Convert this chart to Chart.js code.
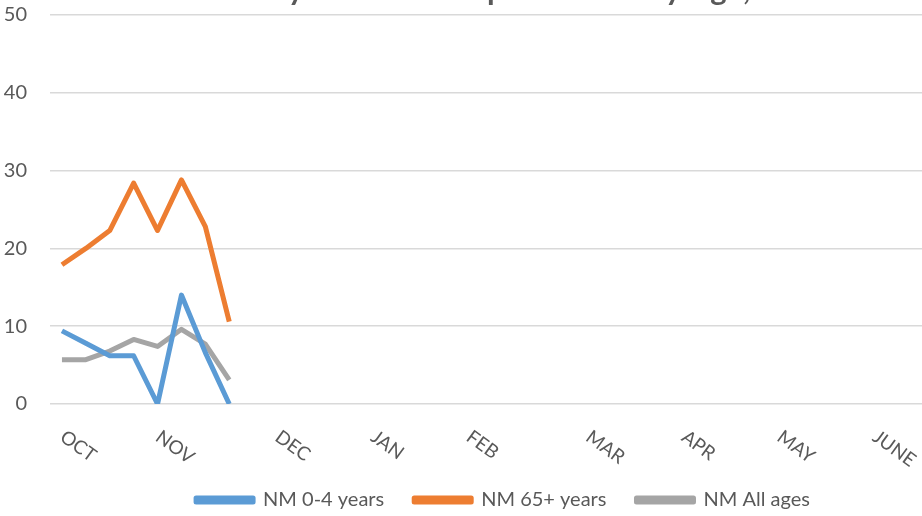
<!DOCTYPE html>
<html>
<head>
<meta charset="utf-8">
<script src="https://cdn.jsdelivr.net/npm/chart.js@4"></script>
<style>
  html, body { margin: 0; padding: 0; background: #fff; overflow: hidden; }
  #wrap { width: 922px; height: 516px; overflow: hidden; }
</style>
</head>
<body>
<div id="wrap"><canvas id="myChart" width="1006" height="516"></canvas></div>
<script>
// month names shown under the axis and the week they start on
var months = ["OCT", "NOV", "DEC", "JAN", "FEB", "MAR", "APR", "MAY", "JUNE"];
var monthWeek = [0, 4, 9, 13, 17, 22, 26, 30, 34];
var weekCount = 40;

var yTicks = [0, 10, 20, 30, 40, 50];

// weekly rates
var nm04 = [9.4, 7.8, 6.2, 6.2, 0, 14.0, 6.6, 0];
var nm65 = [17.9, 20.0, 22.3, 28.4, 22.3, 28.8, 22.8, 10.6];
var nmAll = [5.7, 5.7, 6.8, 8.3, 7.4, 9.6, 7.7, 3.1];

var titleText = "Weekly Rates of Hospitalization by Age,";

var weekLabels = [];
for (var i = 0; i < weekCount; i++) weekLabels.push("");
months.forEach(function (m, k) { weekLabels[monthWeek[k]] = m; });

var ctx = document.getElementById("myChart");

// Excel style labels: slanted down to the right, starting at the week
var monthLabels = {
  id: "monthLabels",
  afterLayout: function (chart) {
    chart.legend.top += 4;
    chart.legend.bottom += 4;
  },
  afterDraw: function (chart) {
    var x = chart.scales.x;
    var c = chart.ctx;
    c.save();
    c.fillStyle = "#595959";
    c.font = "19px Lato";
    c.textAlign = "left";
    c.textBaseline = "top";
    months.forEach(function (m, k) {
      var px = x.getPixelForValue(monthWeek[k]);
      c.save();
      c.translate(px + 6, 427);
      c.rotate(36 * Math.PI / 180);
      c.fillText(m, 0, 0);
      c.restore();
    });
    // title, mostly cut off by the top of the picture
    c.font = "bold 31px Lato";
    c.textAlign = "center";
    c.textBaseline = "alphabetic";
    c.fillText(titleText, 475, 0);
    c.restore();
  }
};

var myChart = new Chart(ctx, {
  type: "line",
  data: {
    labels: weekLabels,
    datasets: [
      {
        label: "NM 0-4 years",
        data: nm04,
        borderColor: "#5B9BD5",
        backgroundColor: "#5B9BD5",
      },
      {
        label: "NM 65+ years",
        data: nm65,
        borderColor: "#ED7D31",
        backgroundColor: "#ED7D31",
      },
      {
        label: "NM All ages",
        data: nmAll,
        borderColor: "#A5A5A5",
        backgroundColor: "#A5A5A5",
      },
    ],
  },
  options: {
    responsive: false,
    animation: false,
    devicePixelRatio: 1,
    elements: {
      line: { borderWidth: 5, tension: 0, borderJoinStyle: "round", borderCapStyle: "butt" },
      point: { radius: 0, hoverRadius: 0 },
    },
    layout: { padding: { top: 15, left: 0, right: 0, bottom: 0 } },
    plugins: {
      legend: {
        position: "bottom",
        labels: {
          color: "#595959",
          font: { family: "Lato", size: 20 },
          boxWidth: 57,
          boxHeight: 4,
          padding: 30,
        },
      },
      tooltip: { enabled: false },
    },
    scales: {
      x: {
        offset: true,
        grid: { display: false },
        border: { display: false },
        ticks: { display: false },
        afterFit: function (s) { s.height = 52; },
      },
      y: {
        min: 0,
        max: 50,
        afterBuildTicks: function (s) { s.ticks = yTicks.map(function (v) { return { value: v }; }); },
        grid: { color: "#D9D9D9", lineWidth: 1.5, drawTicks: false },
        border: { display: false },
        ticks: { color: "#595959", font: { family: "Lato", size: 20 }, padding: 23 },
        afterFit: function (s) {
          s.width = 50;
          s.paddingTop = 12;
          s.paddingBottom = 12;
        },
      },
    },
  },
  plugins: [monthLabels],
});
</script>
</body>
</html>
